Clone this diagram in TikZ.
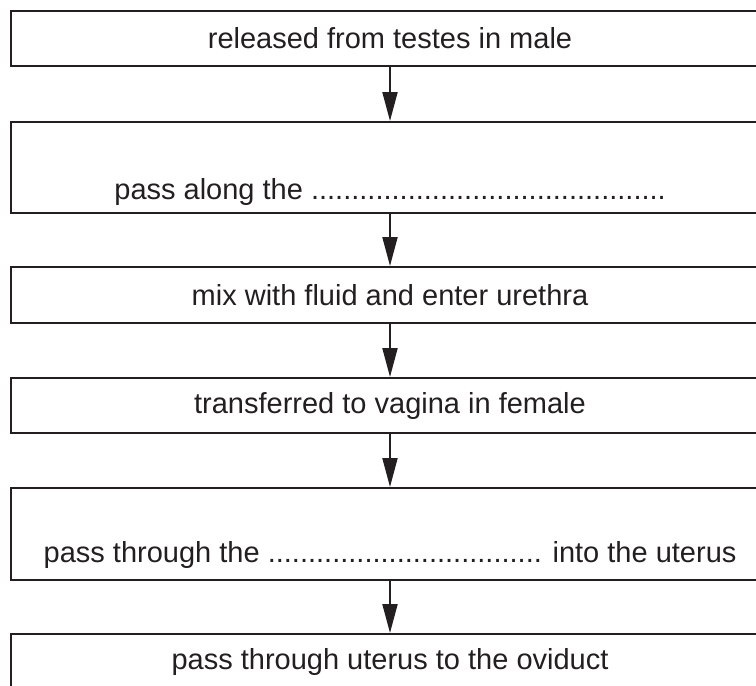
\documentclass[tikz,border=0pt]{standalone}
\usepackage{fontspec}
\setmainfont{Liberation Sans}
\usetikzlibrary{arrows.meta}
\definecolor{ink}{RGB}{35,31,32}
\begin{document}
\begin{tikzpicture}[x=1pt,y=-1pt,
  box/.style={draw=ink, line width=2pt, minimum width=758pt, inner sep=0pt, anchor=north},
  txt/.style={font=\fontsize{29}{34}\selectfont, text=ink, inner sep=0pt},
  flow/.style={draw=ink, line width=2pt, -{Triangle[length=29pt,width=15pt]}}]
\useasboundingbox (0,0) rectangle (756,686);
\clip (0,0) rectangle (756,686);
\node[box, minimum height=55pt] (b1) at (390,10) {};
\node[box, minimum height=91pt] (b2) at (390,121) {};
\node[box, minimum height=56pt] (b3) at (390,266) {};
\node[box, minimum height=55pt] (b4) at (390,377) {};
\node[box, minimum height=92pt] (b5) at (390,487) {};
\node[box, minimum height=55pt] (b6) at (390,633) {};
\node[txt] (t1) at (b1.center) {released from testes in male};
\node[txt, anchor=base] (t2) at (390,199) {pass along the ............................................};
\node[txt] (t3) at (b3.center) {mix with fluid and enter urethra};
\node[txt] (t4) at (b4.center) {transferred to vagina in female};
\node[txt, anchor=base] (t5) at (390,562) {pass through the .................................. into the uterus};
\node[txt] (t6) at (b6.center) {pass through uterus to the oviduct};
\draw[flow] (b1.south) -- (b2.north);
\draw[flow] (b2.south) -- (b3.north);
\draw[flow] (b3.south) -- (b4.north);
\draw[flow] (b4.south) -- (b5.north);
\draw[flow] (b5.south) -- (b6.north);
\end{tikzpicture}
\end{document}
